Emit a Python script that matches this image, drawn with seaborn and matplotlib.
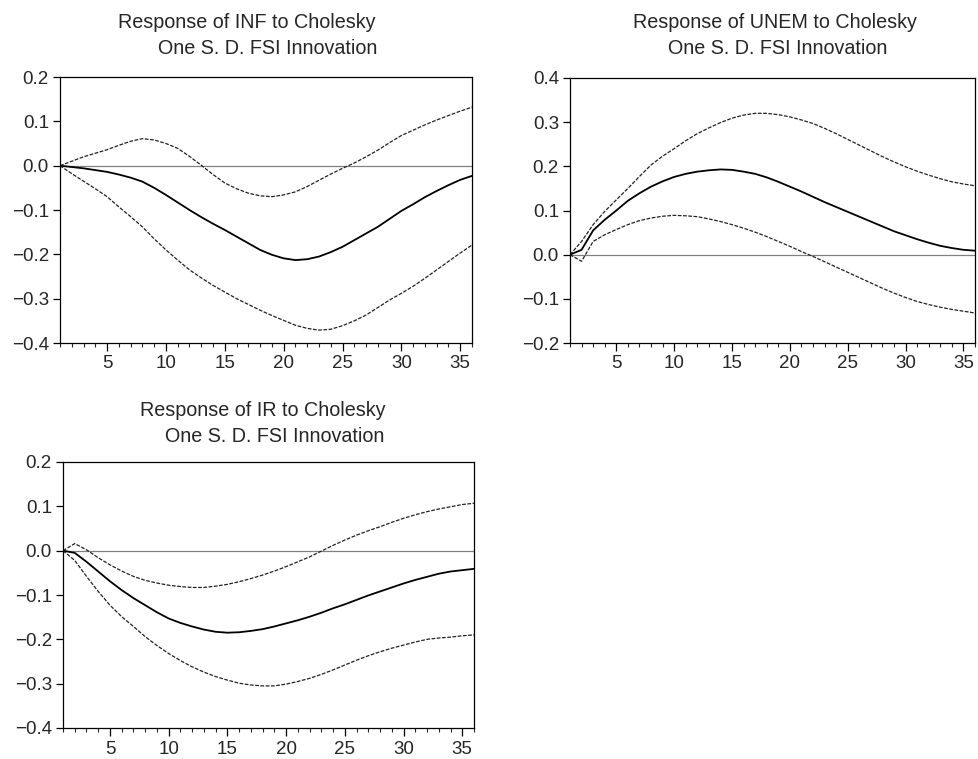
import matplotlib
matplotlib.use("Agg")
import matplotlib.pyplot as plt
from matplotlib.ticker import MultipleLocator
import seaborn as sns
import pandas as pd

periods = list(range(1, 37))

inf_mid = [0.000, -0.003, -0.006, -0.010, -0.014, -0.020, -0.027, -0.036, -0.050, -0.066,
           -0.083, -0.100, -0.116, -0.131, -0.145, -0.160, -0.175, -0.190, -0.201, -0.209,
           -0.213, -0.211, -0.205, -0.195, -0.183, -0.168, -0.153, -0.138, -0.120, -0.102,
           -0.087, -0.071, -0.057, -0.044, -0.032, -0.023]
inf_up = [0.000, 0.010, 0.020, 0.028, 0.036, 0.046, 0.055, 0.061, 0.058, 0.050,
          0.039, 0.021, 0.001, -0.020, -0.039, -0.052, -0.062, -0.068, -0.070, -0.066,
          -0.059, -0.047, -0.033, -0.019, -0.006, 0.006, 0.020, 0.035, 0.052, 0.068,
          0.080, 0.092, 0.103, 0.113, 0.123, 0.132]
inf_lo = [0.000, -0.018, -0.035, -0.052, -0.070, -0.093, -0.115, -0.138, -0.165, -0.190,
          -0.213, -0.235, -0.253, -0.270, -0.285, -0.300, -0.313, -0.326, -0.338, -0.349,
          -0.360, -0.367, -0.371, -0.369, -0.361, -0.350, -0.337, -0.320, -0.303, -0.288,
          -0.272, -0.254, -0.235, -0.216, -0.197, -0.179]

unem_mid = [0.000, 0.011, 0.055, 0.079, 0.100, 0.122, 0.139, 0.154, 0.166, 0.176,
            0.183, 0.188, 0.191, 0.193, 0.192, 0.188, 0.183, 0.175, 0.165, 0.154,
            0.143, 0.131, 0.119, 0.108, 0.097, 0.086, 0.075, 0.064, 0.053, 0.044,
            0.035, 0.027, 0.020, 0.015, 0.011, 0.009]
unem_up = [0.000, 0.030, 0.068, 0.098, 0.124, 0.150, 0.177, 0.203, 0.223, 0.240,
           0.258, 0.274, 0.287, 0.299, 0.309, 0.316, 0.320, 0.320, 0.317, 0.312,
           0.305, 0.297, 0.286, 0.274, 0.261, 0.248, 0.235, 0.222, 0.210, 0.199,
           0.189, 0.180, 0.172, 0.165, 0.160, 0.156]
unem_lo = [0.000, -0.015, 0.030, 0.045, 0.057, 0.068, 0.077, 0.083, 0.087, 0.089,
           0.088, 0.086, 0.081, 0.075, 0.068, 0.060, 0.051, 0.041, 0.030, 0.019,
           0.007, -0.004, -0.016, -0.028, -0.040, -0.052, -0.064, -0.076, -0.087, -0.097,
           -0.106, -0.113, -0.119, -0.124, -0.128, -0.132]

ir_mid = [0.000, -0.005, -0.025, -0.047, -0.069, -0.089, -0.107, -0.123, -0.139, -0.153,
          -0.163, -0.171, -0.178, -0.183, -0.185, -0.184, -0.181, -0.177, -0.171, -0.164,
          -0.157, -0.149, -0.140, -0.130, -0.121, -0.111, -0.101, -0.092, -0.083, -0.074,
          -0.066, -0.059, -0.052, -0.047, -0.044, -0.041]
ir_up = [0.000, 0.016, 0.002, -0.016, -0.032, -0.046, -0.058, -0.067, -0.073, -0.078,
         -0.081, -0.083, -0.083, -0.080, -0.076, -0.070, -0.063, -0.055, -0.046, -0.036,
         -0.025, -0.014, -0.001, 0.012, 0.024, 0.035, 0.045, 0.054, 0.064, 0.073,
         0.081, 0.088, 0.094, 0.099, 0.104, 0.107]
ir_lo = [0.000, -0.022, -0.058, -0.092, -0.123, -0.149, -0.171, -0.194, -0.214, -0.232,
         -0.248, -0.262, -0.274, -0.284, -0.292, -0.299, -0.303, -0.305, -0.305, -0.301,
         -0.295, -0.288, -0.279, -0.269, -0.258, -0.247, -0.237, -0.228, -0.220, -0.213,
         -0.206, -0.200, -0.197, -0.195, -0.192, -0.190]

titles = ["Response of INF to Cholesky", "Response of UNEM to Cholesky", "Response of IR to Cholesky"]
subtitle = "One S. D. FSI Innovation"
x_ticks = [5, 10, 15, 20, 25, 30, 35]

sns.set_style("ticks")
plt.rcParams['font.family'] = ['Liberation Sans', 'DejaVu Sans']

W, H = 979, 759
fig = plt.figure(figsize=(W / 100, H / 100), dpi=100)

# axes boxes in pixels: left, top, right, bottom
boxes = [(60, 77, 472, 343), (570, 78, 975, 343), (63, 462, 474, 728)]
panels = [
    (inf_mid, inf_up, inf_lo, (-0.4, 0.2)),
    (unem_mid, unem_up, unem_lo, (-0.2, 0.4)),
    (ir_mid, ir_up, ir_lo, (-0.4, 0.2)),
]
# title line centers (x, y) in pixels
title_pos = [((247, 22), (268, 49)), ((775, 22), (778, 49)), ((263, 411), (275, 436))]

for i, (box, (mid, up, lo, ylim)) in enumerate(zip(boxes, panels)):
    l, t, r, b = box
    ax = fig.add_axes([l / W, 1 - b / H, (r - l) / W, (b - t) / H])
    df = pd.DataFrame({"period": periods, "mid": mid, "up": up, "lo": lo})
    ax.axhline(0, color="#808080", lw=0.9, zorder=1)
    sns.lineplot(data=df, x="period", y="mid", ax=ax, color="black", lw=1.3)
    for col in ["up", "lo"]:
        sns.lineplot(data=df, x="period", y=col, ax=ax, color="#222222", lw=0.9,
                     dashes=False, linestyle=(0, (3, 1.2)))
    ax.set_xlim(1, 36)
    ax.set_ylim(*ylim)
    ax.set_xticks(x_ticks)
    ax.xaxis.set_minor_locator(MultipleLocator(1))
    ax.yaxis.set_major_locator(MultipleLocator(0.1))
    ax.set_xlabel("")
    ax.set_ylabel("")
    ax.tick_params(axis="both", which="major", labelsize=13.5, direction="out",
                   length=5, width=0.9, color="black", pad=3)
    ax.tick_params(axis="x", which="minor", direction="out", length=3, width=0.8)
    ax.tick_params(axis="x", which="major", length=6)
    for s in ax.spines.values():
        s.set_visible(True)
        s.set_linewidth(0.9)
        s.set_color("black")
    (x1, y1), (x2, y2) = title_pos[i]
    fig.text(x1 / W, 1 - y1 / H, titles[i], ha="center", va="center", fontsize=14.2)
    fig.text(x2 / W, 1 - y2 / H, subtitle, ha="center", va="center", fontsize=14.2)

fig.savefig("out.png", dpi=100)
